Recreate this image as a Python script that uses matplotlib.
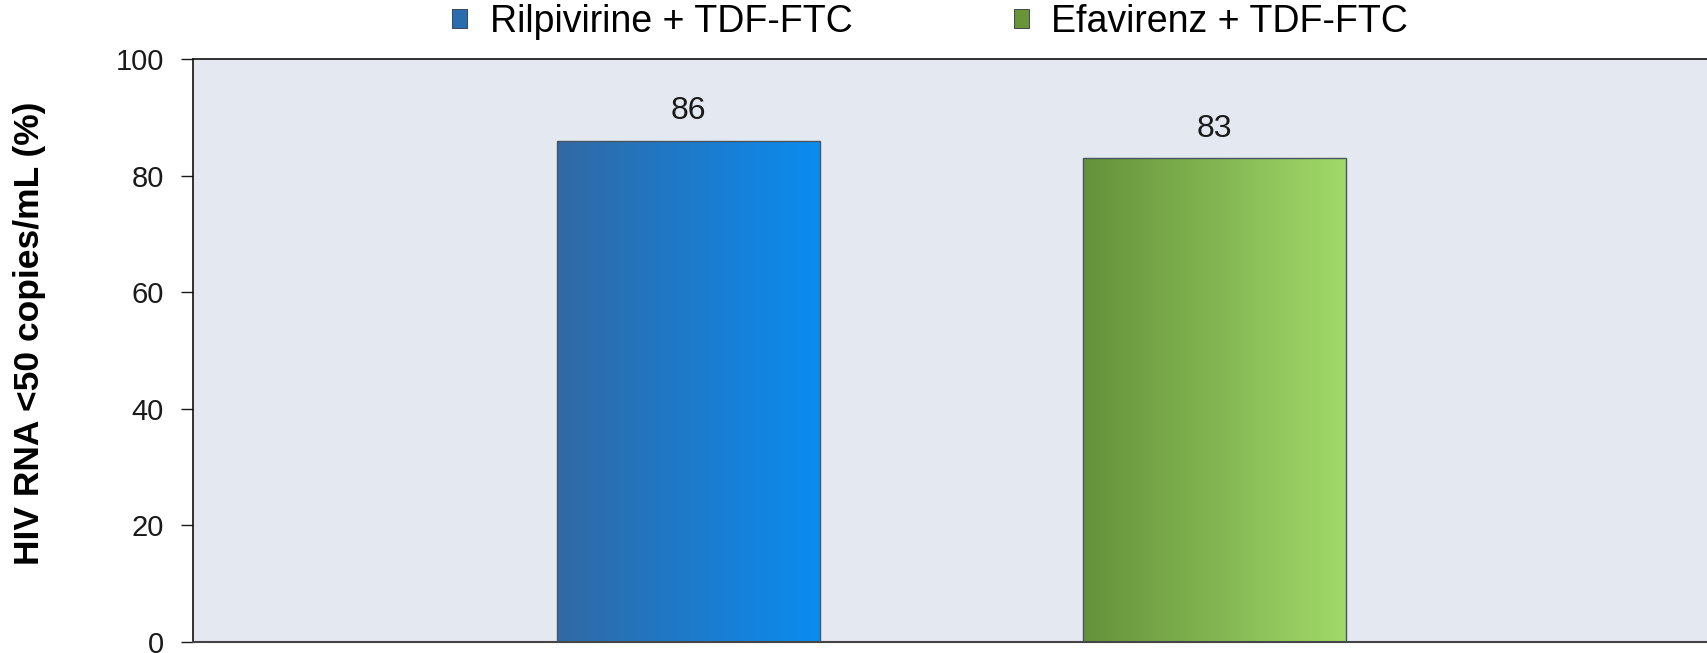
import numpy as np
import matplotlib
matplotlib.use("Agg")
import matplotlib.pyplot as plt
from matplotlib.colors import LinearSegmentedColormap

plt.rcParams['font.family'] = ['Liberation Sans', 'DejaVu Sans']

groups = ["Rilpivirine + TDF-FTC", "Efavirenz + TDF-FTC"]
values = [86, 83]
yticks = [0, 20, 40, 60, 80, 100]
ylabel = "HIV RNA <50 copies/mL (%)"

grad_colors = [("#3169a4", "#0a8cf0"), ("#64913a", "#a2da6a")]
legend_colors = ["#2a6cb0", "#6a9438"]


def main():
    fig = plt.figure(figsize=(17.07, 6.53), dpi=100)
    ax = fig.add_axes([193 / 1707, 1 - 642 / 653, 1 - 193 / 1707, (642 - 59) / 653])
    ax.set_facecolor("#e4e8f0")

    x = np.arange(len(values))
    bars = ax.bar(x, values, width=0.5, color="none", edgecolor="#4a5560", linewidth=1.0, zorder=3)

    # gradient fill for each bar
    grad = np.linspace(0, 1, 256).reshape(1, -1)
    for b, (c0, c1) in zip(bars, grad_colors):
        cmap = LinearSegmentedColormap.from_list("g", [c0, c1])
        x0, y0 = b.get_x(), b.get_y()
        w, h = b.get_width(), b.get_height()
        im = ax.imshow(grad, cmap=cmap, extent=[x0, x0 + w, y0, y0 + h],
                       aspect="auto", zorder=2, interpolation="bilinear")
        im.set_clip_path(b)
        ax.text(x0 + w / 2, h + 2.5, "%d" % h, ha="center", va="bottom", fontsize=23, color="#1a1a1a")

    ax.set_xlim(-0.941, 1.937)
    ax.set_ylim(0, 100)
    ax.set_yticks(yticks)
    ax.tick_params(axis="y", labelsize=21, length=9, width=1, colors="#1a1a1a", pad=12)
    ax.set_xticks([])
    ax.set_ylabel(ylabel, fontsize=25.5, fontweight="bold", va="center")
    ax.yaxis.set_label_coords(-0.1077, 0.53)

    for s in ["top", "left"]:
        ax.spines[s].set_color("#111111")
        ax.spines[s].set_linewidth(1.2)
    ax.spines["bottom"].set_color("#444444")
    ax.spines["bottom"].set_linewidth(1.5)
    ax.spines["right"].set_visible(False)

    handles = [plt.Rectangle((0, 0), 1, 1, facecolor=c, edgecolor="#2a3540", linewidth=0.6) for c in legend_colors]
    fig.legend(handles, groups, loc="center", bbox_to_anchor=(930 / 1707, 1 - 22 / 653),
               ncol=2, frameon=False, fontsize=27, handlelength=0.4, handleheight=0.4,
               handletextpad=0.6, columnspacing=4.3, borderpad=0)

    fig.savefig("out.png", dpi=100)


if __name__ == "__main__":
    main()
